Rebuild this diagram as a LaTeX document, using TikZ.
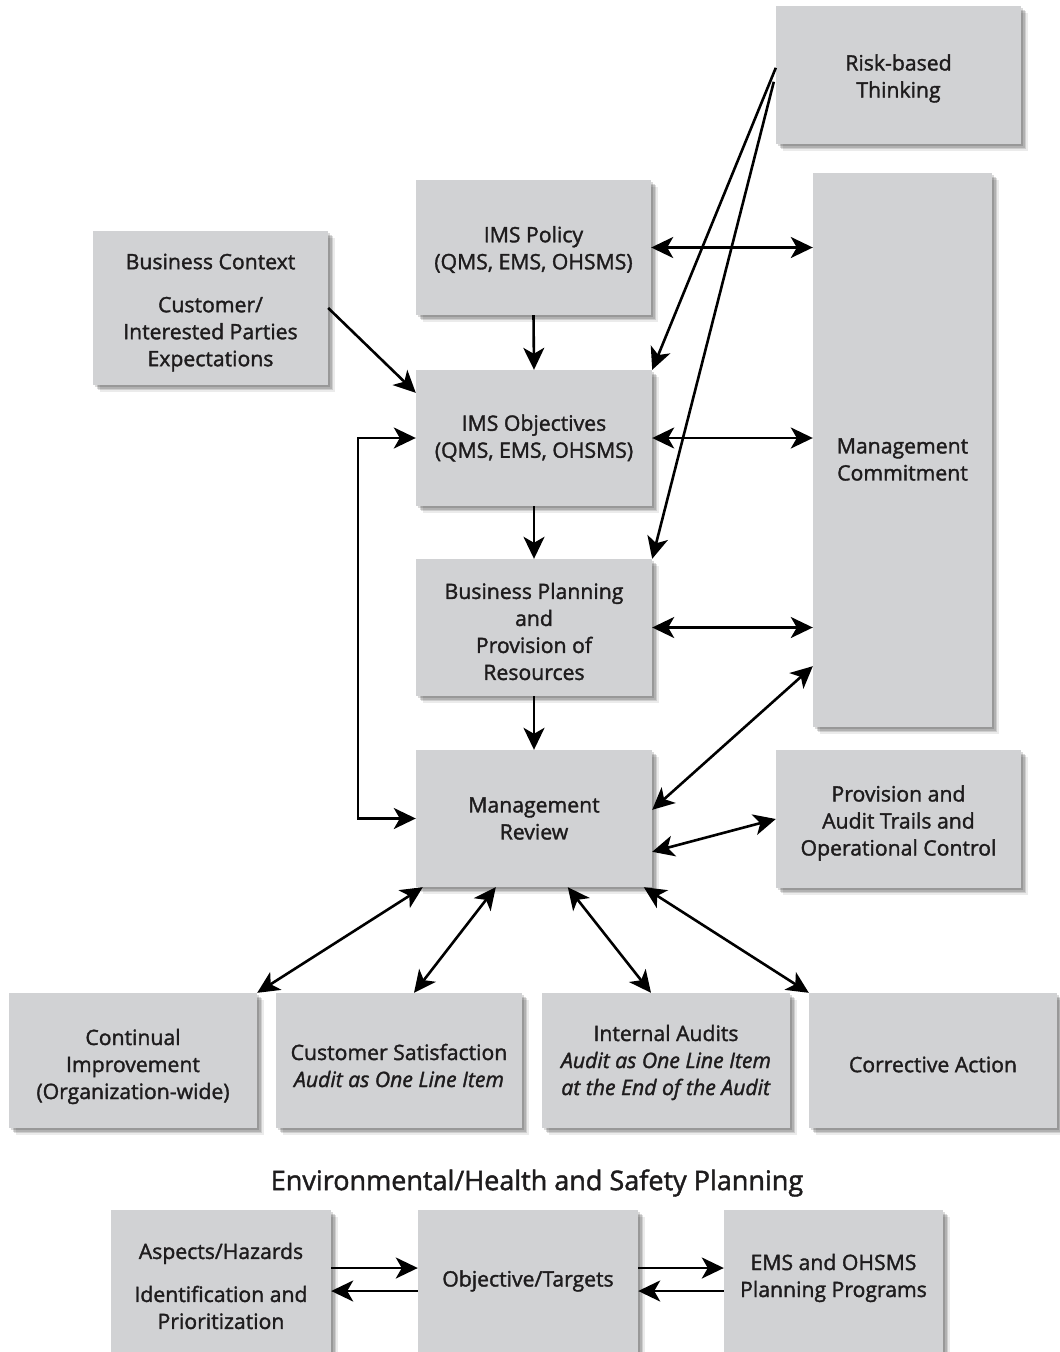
\documentclass[tikz,border=0pt]{standalone}
\usepackage{fontspec}
\setmainfont{Open Sans}[FakeBold=1.6]
\usetikzlibrary{arrows.meta,calc,shadows}

\definecolor{boxgray}{RGB}{209,210,212}
\definecolor{ink}{RGB}{30,28,29}

\tikzset{
  softshadow/.style={
    general shadow={shadow xshift=6.5pt,shadow yshift=-6.5pt,fill=black,opacity=.08},
    general shadow={shadow xshift=5pt,shadow yshift=-5pt,fill=black,opacity=.12},
    general shadow={shadow xshift=3.5pt,shadow yshift=-3.5pt,fill=black,opacity=.14},
    general shadow={shadow xshift=2pt,shadow yshift=-2pt,fill=black,opacity=.14}},
  box/.style={softshadow, fill=boxgray, inner sep=0pt},
  txt/.style={inner sep=0pt, align=center, text=ink, font=\fontsize{21.2}{27}\selectfont},
  link/.style={line width=2.6pt, draw=black, -{Stealth[length=22pt,width=21pt,inset=6pt]}},
  both/.style={line width=2.6pt, draw=black,
    {Stealth[length=22pt,width=21pt,inset=6pt]}-{Stealth[length=22pt,width=21pt,inset=6pt]}},
}

\begin{document}
\begin{tikzpicture}[x=1pt,y=-1pt]
\useasboundingbox (0,0) rectangle (1060,1352);

% upper block
\node[box, minimum width=245, minimum height=138] (risk) at (898.5,75) {};
\node[box, minimum width=235, minimum height=135] (pol) at (533.5,247.5) {};
\node[box, minimum width=235, minimum height=154] (ctx) at (210.5,308) {};
\node[box, minimum width=179, minimum height=554] (mc) at (902.5,450) {};
\node[box, minimum width=236, minimum height=136] (obj) at (534,438) {};
\node[box, minimum width=236, minimum height=137] (plan) at (534,627.5) {};
\node[box, minimum width=236, minimum height=137] (mr) at (534,818.5) {};
\node[box, minimum width=245, minimum height=138] (prov) at (898.5,819) {};

\node[txt] (risk-t) at ($(risk)+(0,3.5)$) {Risk-based\\Thinking};
\node[txt] (pol-t) at ($(pol)+(0,2)$) {IMS Policy\\(QMS, EMS, OHSMS)};
\node[txt] (ctx-t) at ($(ctx)+(0,4.5)$) {Business Context\\[16pt]Customer/\\Interested Parties\\Expectations};
\node[txt] (mc-t) at ($(mc)+(0,9.5)$) {Management\\Commitment};
\node[txt] (obj-t) at (obj) {IMS Objectives\\(QMS, EMS, OHSMS)};
\node[txt] (plan-t) at ($(plan)+(0,4)$) {Business Planning\\and\\Provision of\\Resources};
\node[txt] (mr-t) at (mr) {Management\\Review};
\node[txt] (prov-t) at ($(prov)+(0,4)$) {Provision and\\Audit Trails and\\Operational Control};

% bottom row
\node[box, minimum width=248, minimum height=135] (ci) at (133,1060.5) {};
\node[box, minimum width=246, minimum height=135] (cs) at (399,1060.5) {};
\node[box, minimum width=248, minimum height=135] (ia) at (666,1060.5) {};
\node[box, minimum width=248, minimum height=135] (ca) at (933,1060.5) {};

\node[txt] (ci-t) at ($(ci)+(0,6)$) {Continual\\Improvement\\(Organization-wide)};
\node[txt] (cs-t) at ($(cs)+(0,5)$) {Customer Satisfaction\\\textit{Audit as One Line Item}};
\node[txt] (ia-t) at ($(ia)+(0,2)$) {Internal Audits\\\textit{Audit as One Line Item}\\\textit{at the End of the Audit}};
\node[txt] (ca-t) at ($(ca)+(0,4)$) {Corrective Action};

% planning block
\node[text=ink, font=\fontsize{27}{30}\selectfont] (ttl) at (537,1183) {Environmental/Health and Safety Planning};
\node[box, minimum width=220, minimum height=146] (asp) at (221,1283) {};
\node[box, minimum width=220, minimum height=146] (tgt) at (528,1283) {};
\node[box, minimum width=219, minimum height=146] (ems) at (833.5,1283) {};

\node[txt] (asp-t) at ($(asp)+(0,3)$) {Aspects/Hazards\\[16pt]Identification and\\Prioritization};
\node[txt] (tgt-t) at ($(tgt)+(0,-2)$) {Objective/Targets};
\node[txt] (ems-t) at ($(ems)+(0,-5)$) {EMS and OHSMS\\Planning Programs};

% connectors to management commitment
\draw[both] (pol.east) -- (pol.east -| mc.west);
\draw[both] (obj.east) -- (obj.east -| mc.west);
\draw[both] (plan.east) -- (plan.east -| mc.west);
\draw[both] ($(mr.north east)+(0,60)$) -- ($(mc.south west)+(0,-61)$);
\draw[both] ($(mr.north east)+(0,102)$) -- (prov.west);

% main chain
\draw[link] (pol.south) -- (obj.north);
\draw[link] (obj.south) -- (plan.north);
\draw[link] (plan.south) -- (mr.north);
\draw[link] (ctx.east) -- ($(obj.north west)+(0,23)$);
\draw[both] (obj.west) -- ++(-58,0) |- (mr.west);

% risk-based thinking
\draw[link] ($(risk.north west)+(0,62)$) -- (obj.north east);
\draw[link] ($(risk.north west)+(-2,76)$) -- (plan.north east);

% review fan
\draw[both] ($(mr.south west)+(7,0)$) -- (ci.north east);
\draw[both] ($(mr.south west)+(80,0)$) -- ($(cs.north)+(15,0)$);
\draw[both] ($(mr.south west)+(152,0)$) -- ($(ia.north)+(-15,0)$);
\draw[both] ($(mr.south west)+(228,0)$) -- (ca.north west);

% planning arrows
\draw[link] ($(asp.east)+(0,-15)$) -- ($(tgt.west)+(0,-15)$);
\draw[link] ($(tgt.west)+(0,8)$) -- ($(asp.east)+(0,8)$);
\draw[link] ($(tgt.east)+(0,-15)$) -- ($(ems.west)+(0,-15)$);
\draw[link] ($(ems.west)+(0,8)$) -- ($(tgt.east)+(0,8)$);
\end{tikzpicture}
\end{document}
